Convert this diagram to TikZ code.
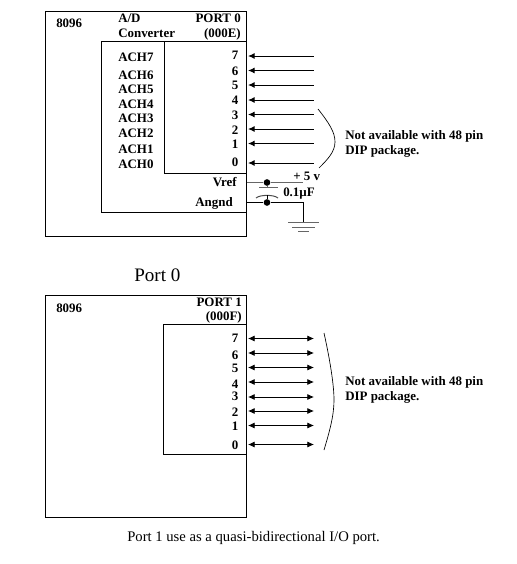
\documentclass[tikz,border=0pt]{standalone}
\usepackage{fontspec}
\setmainfont{Liberation Serif}
\usepackage{tikz}
\usetikzlibrary{arrows.meta}

\begin{document}
\begin{tikzpicture}[
  x=0.75pt, y=-0.75pt,
  chip/.style={draw=black, line width=0.75pt, inner sep=0pt, minimum width=#1},
  chip/.default=150.75pt,
  pinlabel/.style={anchor=east, inner sep=0pt, inner xsep=7pt, font=\bfseries\fontsize{9.7}{11}\selectfont},
  tag/.style={anchor=west, inner sep=0pt, align=left, font=\bfseries\fontsize{9.7}{11.25}\selectfont},
  tagr/.style={anchor=east, inner sep=0pt, font=\bfseries\fontsize{9.7}{11}\selectfont},
  caption/.style={anchor=west, inner sep=0pt},
  inarrow/.style={{Latex[length=5pt,width=4.5pt]}-, line width=0.75pt},
  bothway/.style={{Latex[length=5pt,width=4.5pt]}-{Latex[length=5pt,width=4.5pt]}, line width=0.6pt},
  wire/.style={line width=0.75pt},
  blob/.style={circle, fill=black, inner sep=0pt, minimum size=5pt},
  brace/.style={line width=0.5pt}
]
\useasboundingbox (0,0) rectangle (517,564);

% Port 0 part
\node[chip, minimum height=168.75pt] (chipa) at (145.5,123.5) {};
\node[chip=108.75pt, minimum height=128.25pt] (adc) at (173.75,126.5) {};
\node[chip=61.5pt, minimum height=99pt] (porta) at (205,107) {};

\node[tag] (chipnamea) at (56,23) {8096};
\node[tag] (adtop) at (118,18) {A/D};
\node[tag] (adbot) at (118,33) {Converter};
\node[tagr] (portatop) at (241,18) {PORT 0};
\node[tagr] (portabot) at (241,34) {(000E)};

\node[tag] (ach7) at (118,57) {ACH7};
\node[tag] (ach6) at (118,75) {ACH6};
\node[tag] (ach5) at (118,89) {ACH5};
\node[tag] (ach4) at (118,104) {ACH4};
\node[tag] (ach3) at (118,118.5) {ACH3};
\node[tag] (ach2) at (118,133.5) {ACH2};
\node[tag] (ach1) at (118,149) {ACH1};
\node[tag] (ach0) at (118,164) {ACH0};

\node[pinlabel] (a7) at (248,55) {7};
\node[pinlabel] (a6) at (248,71) {6};
\node[pinlabel] (a5) at (248,85) {5};
\node[pinlabel] (a4) at (248,100) {4};
\node[pinlabel] (a3) at (248,115) {3};
\node[pinlabel] (a2) at (248,130) {2};
\node[pinlabel] (a1) at (248,144) {1};
\node[pinlabel] (a0) at (248,162.5) {0};

\coordinate (ea7) at (314,56);
\coordinate (ea6) at (314,70.5);
\coordinate (ea5) at (314,85);
\coordinate (ea4) at (314,100);
\coordinate (ea3) at (314,114.5);
\coordinate (ea2) at (314,129);
\coordinate (ea1) at (314,143.5);
\coordinate (ea0) at (314,163);

\draw[inarrow] (a7.east |- ea7) -- (ea7);
\draw[inarrow] (a6.east |- ea6) -- (ea6);
\draw[inarrow] (a5.east |- ea5) -- (ea5);
\draw[inarrow] (a4.east |- ea4) -- (ea4);
\draw[inarrow] (a3.east |- ea3) -- (ea3);
\draw[inarrow] (a2.east |- ea2) -- (ea2);
\draw[inarrow] (a1.east |- ea1) -- (ea1);
\draw[inarrow] (a0.east |- ea0) -- (ea0);

\node[tagr] (vref) at (237,182) {Vref};
\node[tagr] (angnd) at (233,203) {Angnd};
\node[tag] (plusfive) at (293,176) {+ 5 v};
\node[tag] (capval) at (283,193.5) {0.1µF};

\node[blob] (vdot) at (267,182.5) {};
\node[blob] (gdot) at (267,202.5) {};
\coordinate (vin) at (246.5,182.5);
\coordinate (vend) at (303,182.5);
\coordinate (gin) at (246.5,202.5);
\coordinate (gcorner) at (303.5,202.5);
\coordinate (gnd) at (303.5,222);
\coordinate (plate) at (267,187.5);
\coordinate (platelow) at (267,195);

\draw[wire, black!60] (vin) -- (vdot) -- (vend);
\draw[wire] (gin) -- (gdot) -- (gcorner) -- (gnd);
\draw[wire, black!60] (vdot) -- (plate);
\draw[wire, black!60] (259,187.5) -- (278,187.5);
\draw[wire, black!70] (256,198) .. controls (260,194.5) and (274,194.5) .. (278,198);
\draw[wire] (platelow) -- (gdot);
\draw[wire, black!60] (288,222) -- (319,222);
\draw[wire, black!60] (292,227) -- (315,227);
\draw[wire, black!60] (298,231.5) -- (309,231.5);

\draw[brace] (318,109) .. controls (329,123) and (335,132) .. (335,142) .. controls (335,152) and (327,160) .. (319,168);
\node[tag] (notea) at (345,144) {Not available with 48 pin\\DIP package.};

\node[caption, font=\fontsize{14.3}{16}\selectfont] (porta cap) at (134,275) {Port 0};

% Port 1 part
\node[chip, minimum height=166.5pt] (chipb) at (145.5,406) {};
\node[chip=62.25pt, minimum height=97.5pt] (portb) at (204.5,389) {};

\node[tag] (chipnameb) at (56,308) {8096};
\node[tagr] (portbtop) at (242,302) {PORT 1};
\node[tagr] (portbbot) at (242,317) {(000F)};

\node[pinlabel] (b7) at (248,338) {7};
\node[pinlabel] (b6) at (248,355) {6};
\node[pinlabel] (b5) at (248,368) {5};
\node[pinlabel] (b4) at (248,384) {4};
\node[pinlabel] (b3) at (248,396.5) {3};
\node[pinlabel] (b2) at (248,412.5) {2};
\node[pinlabel] (b1) at (248,426.5) {1};
\node[pinlabel] (b0) at (248,445) {0};

\coordinate (eb7) at (314,338.5);
\coordinate (eb6) at (314,353);
\coordinate (eb5) at (314,367.5);
\coordinate (eb4) at (314,382);
\coordinate (eb3) at (314,397);
\coordinate (eb2) at (314,411);
\coordinate (eb1) at (314,425.5);
\coordinate (eb0) at (314,444.5);

\draw[bothway] (b7.east |- eb7) -- (eb7);
\draw[bothway] (b6.east |- eb6) -- (eb6);
\draw[bothway] (b5.east |- eb5) -- (eb5);
\draw[bothway] (b4.east |- eb4) -- (eb4);
\draw[bothway] (b3.east |- eb3) -- (eb3);
\draw[bothway] (b2.east |- eb2) -- (eb2);
\draw[bothway] (b1.east |- eb1) -- (eb1);
\draw[bothway] (b0.east |- eb0) -- (eb0);

\draw[brace] (324,333) .. controls (330,360) and (334,385) .. (334,400) .. controls (334,415) and (330,430) .. (324,450);
\node[tag] (noteb) at (345,389.5) {Not available with 48 pin\\DIP package.};

\node[caption, font=\fontsize{11}{13}\selectfont] (portb cap) at (127,537.5) {Port 1 use as a quasi-bidirectional I/O port.};
\end{tikzpicture}
\end{document}
